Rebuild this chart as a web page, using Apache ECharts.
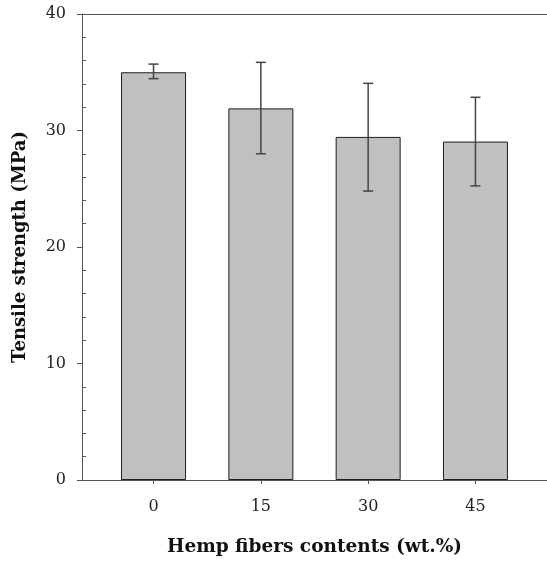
<!DOCTYPE html>
<html>
<head>
<meta charset="utf-8">
<script src="https://cdn.jsdelivr.net/npm/echarts@6/dist/echarts.min.js"></script>
<style>html,body{margin:0;padding:0;background:#fff}#c{width:547px;height:561px}</style>
</head>
<body>
<div id="c"></div>
<script>
const categories = [0, 15, 30, 45];
const strength = [35.0, 31.9, 29.45, 29.05];
const errLow = [34.45, 28.0, 24.8, 25.25];
const errHigh = [35.7, 35.85, 34.05, 32.85];
const yTicks = [0, 10, 20, 30, 40];

const chart = echarts.init(document.getElementById('c'), null, {renderer: 'canvas'});
const font = 'DejaVu Serif';
const axisColor = '#555';
chart.setOption({
  animation: false,
  backgroundColor: '#fff',
  grid: {left: 82, top: 14, right: 0, bottom: 81, containLabel: false, outerBoundsMode: 'none'},
  xAxis: [{
    type: 'value', min: -10, max: 55,
    name: 'Hemp fibers contents (wt.%)', nameLocation: 'middle', nameGap: 58,
    nameTextStyle: {fontFamily: font, fontWeight: 'bold', fontSize: 18.5, color: '#111'},
    axisLine: {show: true, onZero: false, lineStyle: {color: axisColor, width: 1}},
    axisTick: {show: true, length: 4, customValues: categories, lineStyle: {color: axisColor}},
    axisLabel: {customValues: categories, margin: 19, fontFamily: font, fontSize: 16, color: '#222'},
    splitLine: {show: false}
  }, {
    type: 'value', min: -10, max: 55, position: 'top',
    axisLine: {show: true, onZero: false, lineStyle: {color: axisColor, width: 1}},
    axisTick: {show: false}, axisLabel: {show: false}, splitLine: {show: false}
  }],
  yAxis: [{
    type: 'value', min: 0, max: 40, interval: 10,
    name: 'Tensile strength (MPa)', nameLocation: 'middle', nameGap: 53,
    nameTextStyle: {fontFamily: font, fontWeight: 'bold', fontSize: 18, color: '#111'},
    axisLine: {show: true, onZero: false, lineStyle: {color: axisColor, width: 1}},
    axisTick: {show: true, length: 5, lineStyle: {color: axisColor}},
    axisLabel: {margin: 16, fontFamily: font, fontSize: 16, color: '#222',
      formatter: v => yTicks.includes(v) ? String(v) : ''},
    splitLine: {show: false}
  }, {
    type: 'value', min: 0, max: 40, interval: 10, position: 'left',
    axisLine: {show: false, onZero: false},
    axisTick: {show: false, inside: true},
    minorTick: {show: true, splitNumber: 5, length: 4, lineStyle: {color: axisColor}},
    axisLabel: {show: false}, splitLine: {show: false}
  }],
  series: [{
    type: 'bar', xAxisIndex: 0, yAxisIndex: 0, barWidth: 65,
    data: categories.map((c, i) => [c, strength[i]]),
    itemStyle: {color: '#c0c0c0', borderColor: '#1e1e1e', borderWidth: 1}
  }, {
    type: 'custom', xAxisIndex: 0, yAxisIndex: 0, z: 5,
    data: categories.map((c, i) => [c, errLow[i], errHigh[i]]),
    renderItem: function (params, api) {
      const x = api.value(0);
      const lo = api.coord([x, api.value(1)]);
      const hi = api.coord([x, api.value(2)]);
      const hw = 5;
      const st = {stroke: '#444', lineWidth: 1.5};
      return {type: 'group', children: [
        {type: 'line', shape: {x1: lo[0], y1: lo[1], x2: hi[0], y2: hi[1]}, style: st},
        {type: 'line', shape: {x1: hi[0] - hw, y1: hi[1], x2: hi[0] + hw, y2: hi[1]}, style: st},
        {type: 'line', shape: {x1: lo[0] - hw, y1: lo[1], x2: lo[0] + hw, y2: lo[1]}, style: st}
      ]};
    }
  }]
});
</script>
</body>
</html>
